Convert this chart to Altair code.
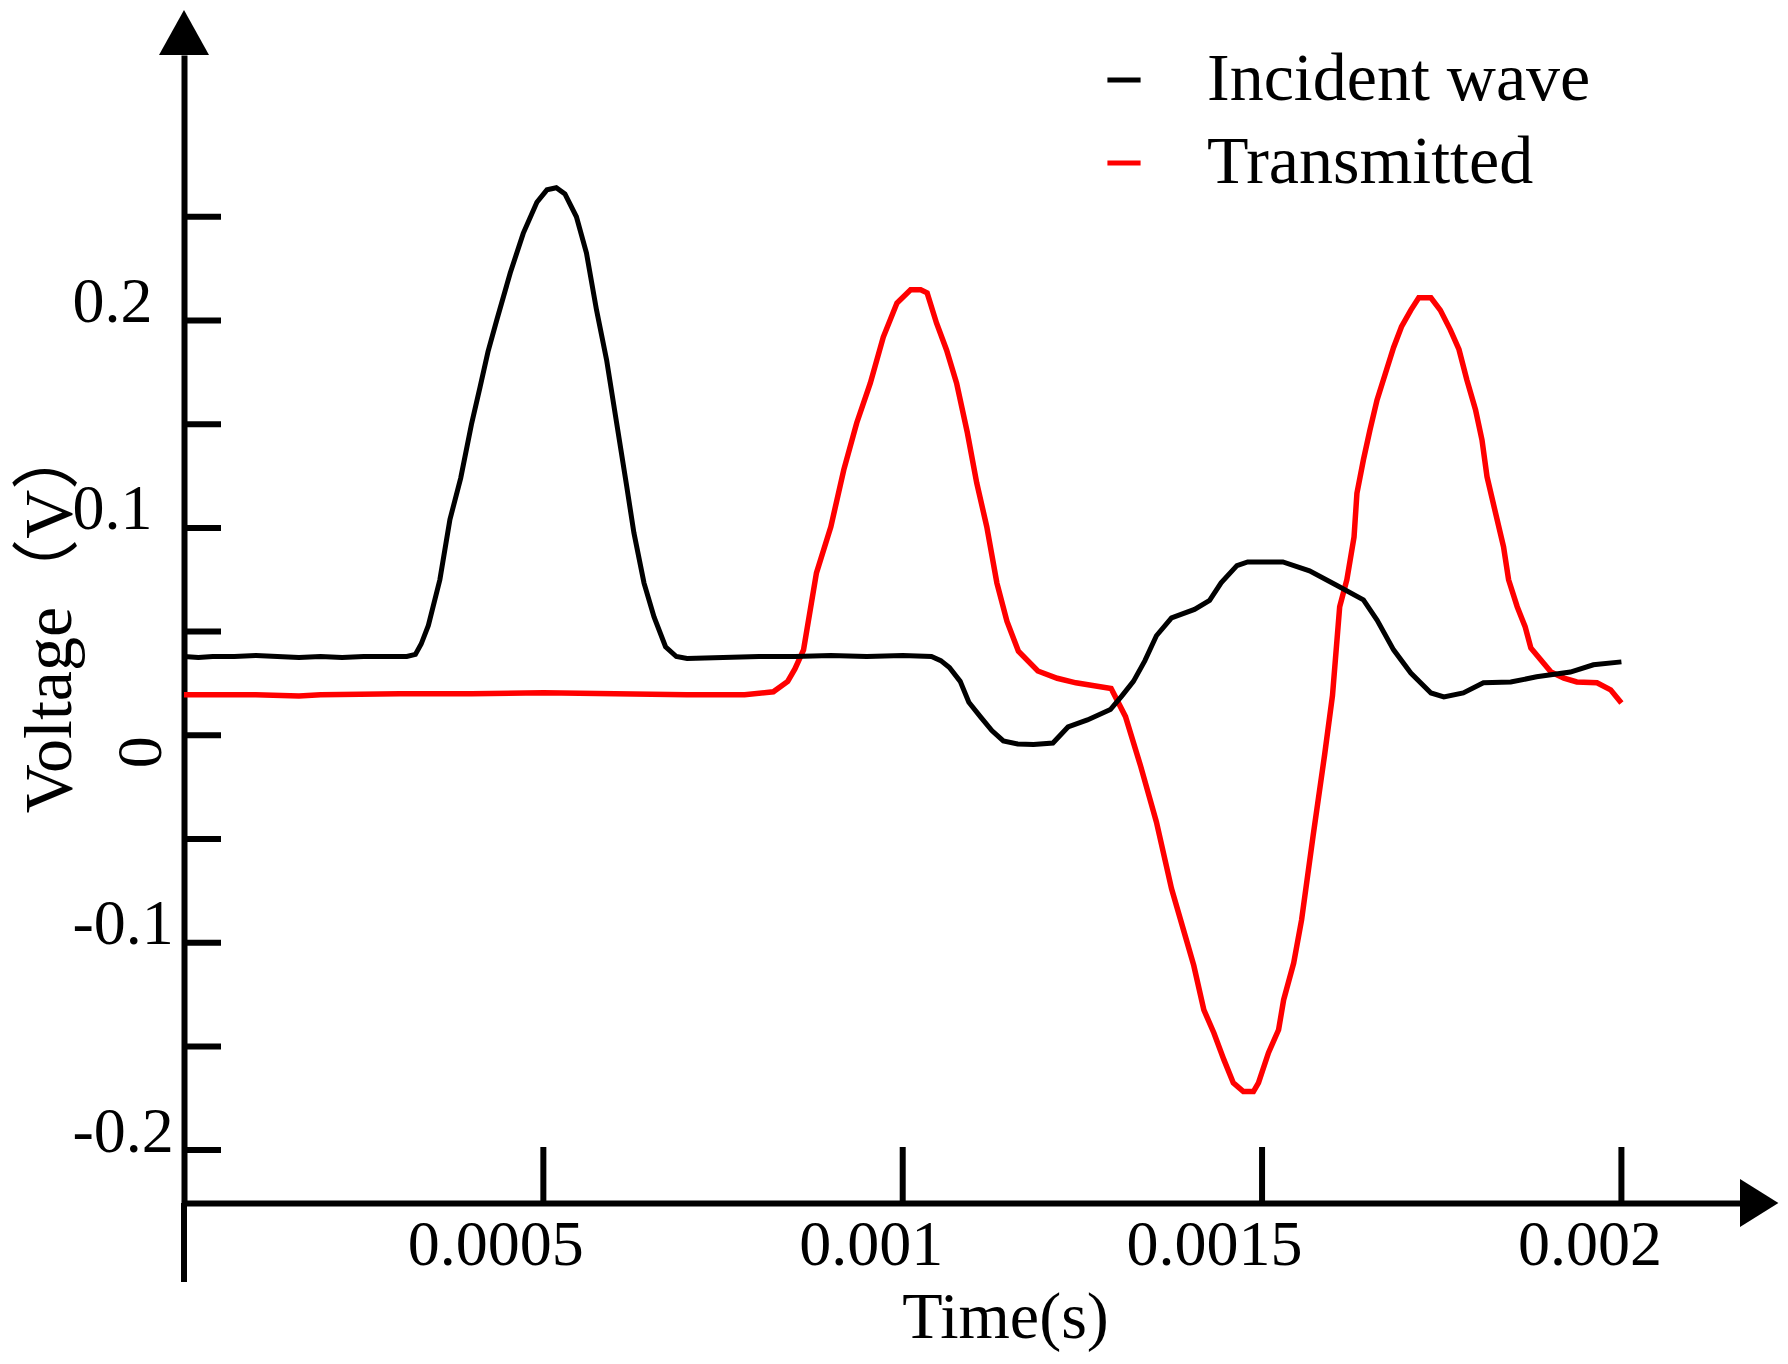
import altair as alt
import pandas as pd

# ---------------- data ----------------
inc_t = [0.0, 0.00002, 0.00004, 0.00007, 0.0001, 0.00013, 0.00016, 0.00019, 0.00022, 0.00025,
         0.00028, 0.00031, 0.000322, 0.00033, 0.00034, 0.000356, 0.00037, 0.000385, 0.0004, 0.000412,
         0.000423, 0.000435, 0.000454, 0.000472, 0.000491, 0.000505, 0.000518, 0.00053, 0.000546, 0.00056,
         0.000574, 0.000588, 0.000602, 0.000616, 0.000626, 0.00064, 0.000654, 0.00067, 0.000685, 0.0007,
         0.00075, 0.0008, 0.00085, 0.0009, 0.00095, 0.001, 0.00104, 0.001053, 0.001065, 0.00108,
         0.001092, 0.001108, 0.001124, 0.00114, 0.00116, 0.001182, 0.001209, 0.00123, 0.001257, 0.001289,
         0.001305, 0.001321, 0.001337, 0.001353, 0.001374, 0.001406, 0.001427, 0.001443, 0.001465, 0.00148,
         0.001529, 0.001566, 0.001603, 0.001641, 0.00166, 0.001683, 0.001707, 0.001735, 0.001753, 0.00178,
         0.001808, 0.001846, 0.001882, 0.001929, 0.001961, 0.002]
inc_v = [0.038, 0.0375, 0.038, 0.038, 0.0385, 0.038, 0.0375, 0.038, 0.0375, 0.038,
         0.038, 0.038, 0.039, 0.044, 0.053, 0.075, 0.104, 0.124, 0.150, 0.168,
         0.185, 0.200, 0.223, 0.242, 0.257, 0.263, 0.264, 0.261, 0.250, 0.2325,
         0.205, 0.181, 0.1505, 0.12, 0.0976, 0.0735, 0.0571, 0.0427, 0.038, 0.037,
         0.0375, 0.038, 0.038, 0.0385, 0.038, 0.0385, 0.038, 0.036, 0.0327, 0.026,
         0.0159, 0.009, 0.0023, -0.0027, -0.0042, -0.0044, -0.0037, 0.004, 0.0074, 0.0124,
         0.019, 0.026, 0.036, 0.048, 0.0566, 0.0607, 0.065, 0.0735, 0.0818, 0.0836,
         0.0836, 0.0793, 0.0725, 0.0653, 0.0556, 0.0412, 0.03, 0.0204, 0.0185, 0.0204,
         0.0253, 0.0257, 0.0282, 0.0305, 0.034, 0.0354]

tr_t = [0.0, 0.0001, 0.00016, 0.00019, 0.0003, 0.0004, 0.0005, 0.0006, 0.0007, 0.00078,
        0.00082, 0.00084, 0.00085, 0.000862, 0.00088, 0.0009, 0.000918, 0.000936, 0.000955, 0.000973,
        0.000992, 0.001011, 0.001025, 0.001034, 0.001047, 0.001061, 0.001075, 0.00109, 0.001103, 0.001117,
        0.001131, 0.001145, 0.001161, 0.001188, 0.001215, 0.001241, 0.00129, 0.00131, 0.001331, 0.001353,
        0.001374, 0.001395, 0.001405, 0.001419, 0.001433, 0.001447, 0.00146, 0.001474, 0.001488, 0.001495,
        0.001509, 0.001523, 0.00153, 0.001544, 0.001555, 0.001571, 0.001587, 0.001598, 0.001608, 0.001618,
        0.001628, 0.001632, 0.001641, 0.00165, 0.00166, 0.001673, 0.001683, 0.001694, 0.001707, 0.001718,
        0.001735, 0.001748, 0.001762, 0.001774, 0.001785, 0.001797, 0.001806, 0.001813, 0.001825, 0.001836,
        0.001843, 0.001855, 0.001866, 0.001874, 0.001888, 0.001902, 0.00192, 0.001938, 0.001966, 0.001985,
        0.002]
tr_v = [0.0195, 0.0195, 0.019, 0.0195, 0.02, 0.02, 0.0205, 0.02, 0.0195, 0.0195,
        0.021, 0.026, 0.032, 0.0412, 0.0783, 0.1005, 0.128, 0.1506, 0.1699, 0.192,
        0.2084, 0.2148, 0.2148, 0.2133, 0.1988, 0.1858, 0.1698, 0.1458, 0.1217, 0.1005,
        0.0735, 0.055, 0.0405, 0.031, 0.0275, 0.0253, 0.0226, 0.009, -0.0148, -0.0418,
        -0.0739, -0.099, -0.111, -0.1324, -0.1435, -0.1565, -0.1676, -0.1718, -0.1718, -0.1676,
        -0.153, -0.142, -0.1276, -0.1098, -0.089, -0.0485, -0.0095, 0.0192, 0.062, 0.075,
        0.0956, 0.1167, 0.1328, 0.147, 0.1617, 0.176, 0.187, 0.197, 0.205, 0.2109,
        0.2109, 0.205, 0.1955, 0.186, 0.1713, 0.157, 0.1424, 0.1247, 0.107, 0.0909,
        0.075, 0.062, 0.0524, 0.0421, 0.0363, 0.0305, 0.0276, 0.0257, 0.0253, 0.0219,
        0.0156]

series_names = ["Incident wave", "Transmitted"]
series_colors = ["#000000", "#ff0000"]
x_tick_values = [0.0005, 0.001, 0.0015, 0.002]
y_tick_values = [0.25, 0.2, 0.15, 0.1, 0.05, 0.0, -0.05, -0.1, -0.15, -0.2]
y_label_values = [0.2, 0.1, -0.1, -0.2]
zero_label = ["0"]
x_title = "Time(s)"
y_title = "Voltage（V）"

# ---------------- layout ----------------
W, H = 1556, 1148
X_DOMAIN = [0.0, 0.002165]
Y_DOMAIN = [-0.2255, 0.328]
FONT = "Liberation Serif"
TITLE_FONT = "Liberation Serif, Noto Sans CJK SC"

df_inc = pd.DataFrame({"t": inc_t, "v": inc_v, "series": series_names[0]})
df_tr = pd.DataFrame({"t": tr_t, "v": tr_v, "series": series_names[1]})
df_yt = pd.DataFrame({"v": y_tick_values})
df_xt = pd.DataFrame({"t": x_tick_values})
df_corner = pd.DataFrame({"t": [X_DOMAIN[0]], "v": [Y_DOMAIN[1]]})
df_xend = pd.DataFrame({"t": [X_DOMAIN[1]], "v": [Y_DOMAIN[0]]})
df_zero = pd.DataFrame({"t": [0.0], "v": [0.0], "label": zero_label})

xscale = alt.Scale(domain=X_DOMAIN, nice=False, zero=False)
yscale = alt.Scale(domain=Y_DOMAIN, nice=False, zero=False)

x_axis = alt.Axis(
    values=x_tick_values, title=x_title, labelExpr="format(datum.value, '~g')",
    ticks=False, grid=False, domainColor="black", domainWidth=6,
    labelFont=FONT, labelFontSize=64, labelColor="black", labelAlign="right",
    labelOffset=40, labelBaseline="top", labelPadding=10, labelFlush=False, labelOverlap=False,
    titleFont=FONT, titleFontSize=66, titleFontWeight="normal", titleColor="black",
    titleX=821, titleY=114, titleBaseline="middle", titleAlign="center",
)
y_axis = alt.Axis(
    values=y_label_values, title=y_title,
    labelExpr="datum.value < 0 ? '-' + format(-datum.value, '.1f') : format(datum.value, '.1f')",
    ticks=False, grid=False, domainColor="black", domainWidth=6,
    labelFont=FONT, labelFontSize=64, labelColor="black", labelPadding=112, labelAlign="left",
    labelOffset=-18, labelBaseline="middle", labelFlush=False, labelOverlap=False,
    titleFont=TITLE_FONT, titleFontSize=68, titleFontWeight="normal", titleColor="black",
    titleX=-134, titleY=562, titleAngle=270, titleBaseline="middle", titleAlign="center",
)

X = alt.X("t:Q", scale=xscale, axis=x_axis)
Y = alt.Y("v:Q", scale=yscale, axis=y_axis)

color = alt.Color(
    "series:N",
    scale=alt.Scale(domain=series_names, range=series_colors),
    legend=alt.Legend(
        orient="none", legendX=906, legendY=-9, title=None,
        symbolType="stroke", symbolSize=1100, symbolStrokeWidth=5,
        labelFont=FONT, labelFontSize=68, labelColor="black", labelOffset=49, labelLimit=0,
        rowPadding=15, padding=0,
    ),
)

red_line = alt.Chart(df_tr).mark_line(strokeWidth=5.5).encode(x=X, y=Y, color=color)
black_line = alt.Chart(df_inc).mark_line(strokeWidth=5).encode(x=X, y=Y, color=color)

y_ticks = alt.Chart(df_yt).mark_rule(color="black", strokeWidth=6).encode(
    y=Y, x=alt.value(0), x2=alt.value(37))
x_ticks = alt.Chart(df_xt).mark_rule(color="black", strokeWidth=6).encode(
    x=X, y=alt.value(H), y2=alt.value(H - 56))
y_ext = alt.Chart(df_xt).mark_rule(color="black", strokeWidth=6).encode(
    x=alt.value(0), y=alt.value(H), y2=alt.value(H + 79))

up_arrow = alt.Chart(df_corner).mark_point(
    shape="M -1 0 L 0 -1.8 L 1 0 Z", filled=True, size=2500, color="black", opacity=1, strokeWidth=0
).encode(x=X, y=Y)
right_arrow = alt.Chart(df_xend).mark_point(
    shape="M 0 -1 L 1.6 0 L 0 1 Z", filled=True, size=2304, color="black", opacity=1, strokeWidth=0
).encode(x=X, y=Y)

zero_text = alt.Chart(df_zero).mark_text(
    font=FONT, fontSize=64, color="black", angle=270, align="center", baseline="middle",
    dx=-17, dy=-42
).encode(x=X, y=Y, text="label:N")

chart = alt.layer(
    red_line, black_line, y_ticks, x_ticks, y_ext, up_arrow, right_arrow, zero_text
).properties(
    width=W, height=H,
    autosize=alt.AutoSizeParams(type="none"),
    padding={"left": 176, "top": 47, "right": 40, "bottom": 153},
    background="white",
).configure_view(stroke=None)

chart.save("out.html", embed_options={"renderer": "svg", "actions": False})
